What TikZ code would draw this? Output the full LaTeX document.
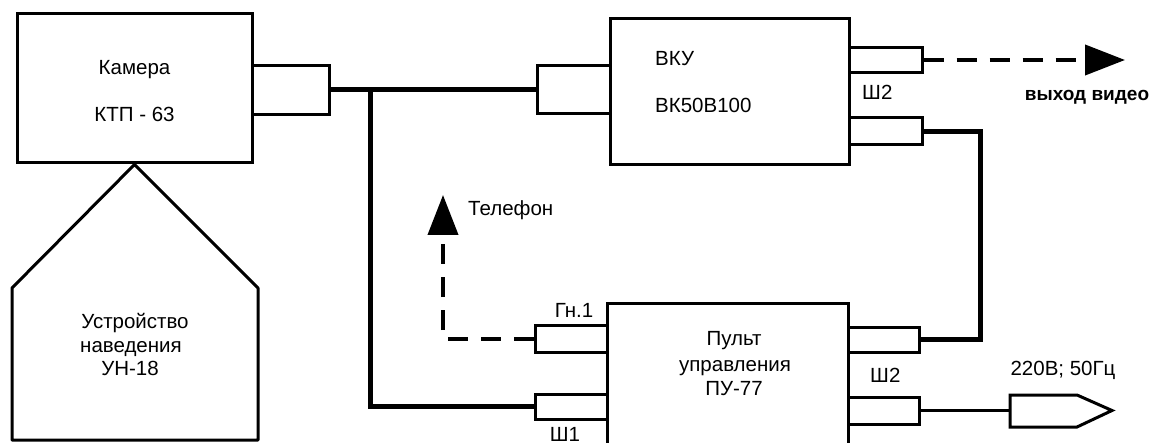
\documentclass[tikz,border=0pt]{standalone}
\usepackage{fontspec}
\setmainfont{Liberation Sans}
\setsansfont{Liberation Sans}
\usetikzlibrary{arrows.meta}
\begin{document}
\begin{tikzpicture}[x=1pt,y=-1pt,
  blk/.style={draw, line width=3pt, inner sep=0pt, fill=white},
  bus/.style={line width=5pt},
  wire/.style={line width=3pt},
  dashline/.style={line width=4pt, dash pattern=on 20pt off 13pt},
  lbl/.style={inner sep=0pt, anchor=base, font=\fontsize{20.5}{24}\selectfont},
  lblw/.style={lbl, anchor=base west},
  bighead/.style={-{Triangle[length=40pt,width=30pt]}}
]
\useasboundingbox (0,0) rectangle (1155,443);
\fill[white] (0,0) rectangle (1155,443);

\coordinate (j) at (370,90);
\coordinate (rt) at (980,131.5);

% camera
\node[blk, minimum width=235pt, minimum height=149pt] (cam) at (134.5,88.5) {};
\node[blk, minimum width=77pt, minimum height=49pt] (camc) at (290.5,90) {};
\node[lbl] (t1) at (134.5,75) {Камера};
\node[lbl] (t2) at (134.5,122) {КТП - 63};

% pointing device
\draw[line width=3pt, line join=round] (12,440) -- (12,288) -- (cam.south) -- (258,288) -- (258,440) -- cycle;
\node[lbl] (t3a) at (135,328) {Устройство};
\node[lbl] (t3b) at (131,352) {наведения};
\node[lbl] (t3c) at (130,375) {УН-18};

% VKU
\node[blk, minimum width=239pt, minimum height=146pt] (vku) at (729.5,92) {};
\node[blk, minimum width=73pt, minimum height=48pt] (vkuin) at (573.5,90) {};
\node[blk, minimum width=73pt, minimum height=25pt] (vkuo1) at (885.5,60) {};
\node[blk, minimum width=73pt, minimum height=27pt] (vkuo2) at (885.5,131.5) {};
\node[lblw] (t4) at (655,66) {ВКУ};
\node[lblw] (t5) at (655,113) {ВК50В100};
\node[lblw] (t6) at (862,100) {Ш2};
\node[lbl, font=\fontsize{19}{22}\selectfont\bfseries] (t7) at (1087,101) {выход видео};

% control panel
\draw[line width=3pt] (607,460) -- (607,303) -- (848,303) -- (848,460);
\node[lbl] (t8a) at (734,345) {Пульт};
\node[lbl] (t8b) at (735,371) {управления};
\node[lbl] (t8c) at (734,395) {ПУ-77};
\node[blk, minimum width=72pt, minimum height=27pt] (puGn) at (571,338.5) {};
\node[blk, minimum width=72pt, minimum height=25pt] (puSh1) at (571,406.5) {};
\node[blk, minimum width=71pt, minimum height=25pt] (puo1) at (883.5,339.5) {};
\node[blk, minimum width=71pt, minimum height=27pt] (puo2) at (883.5,410.5) {};
\node[lbl] (t9) at (574,317) {Гн.1};
\node[lbl] (t10) at (565,441) {Ш1};
\node[lblw] (t11) at (870,382) {Ш2};
\node[lbl] (t12) at (1063,375) {220В; 50Гц};
\node[lblw] (t13) at (468,216) {Телефон};

% plug
\coordinate (plug) at (1010,410.5);
\draw[line width=3pt] (1010,395) -- (1077,395) -- (1112,410.5) -- (1077,427) -- (1010,427) -- cycle;

% connections
\draw[bus] (camc.east) -- (vkuin.west);
\draw[bus] (j) |- (puSh1.west);
\draw[bus] (vkuo2.east) -- (rt) |- (puo1.east);
\draw[wire] (puo2.east) -- (plug);
\coordinate (vout) at (1125,60);
\coordinate (tel) at (443,195);
\draw[dashline, bighead] (vkuo1.east) -- (vout);
\draw[dashline, bighead] (puGn.west) -| (tel);
\end{tikzpicture}
\end{document}
